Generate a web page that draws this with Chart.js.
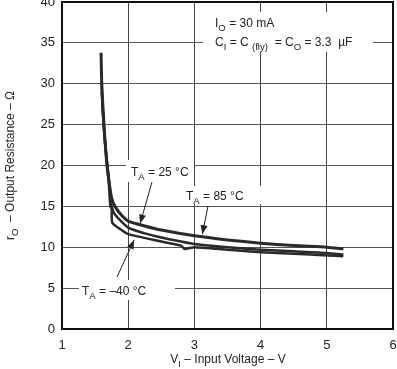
<!DOCTYPE html>
<html>
<head>
<meta charset="utf-8">
<script src="https://cdn.jsdelivr.net/npm/chart.js@4"></script>
<style>
  html, body { margin: 0; padding: 0; background: #fff; }
  #wrap { width: 397px; height: 369px; }
</style>
</head>
<body>
<div id="wrap"><canvas id="roChart" width="397" height="369"></canvas></div>
<script>
// input voltage (V) and output resistance (ohm)
const v85 = [1.59, 1.6, 1.62, 1.65, 1.68, 1.72, 1.75, 1.8, 1.9, 2.0, 2.25, 2.5, 3.0, 3.5, 4.0, 4.5, 5.0, 5.25];
const r85 = [33.8, 30, 27, 23, 20, 17.5, 16, 15.0, 13.9, 13.2, 12.6, 12.1, 11.4, 10.9, 10.5, 10.2, 10.0, 9.8];
const v25 = [1.6, 1.62, 1.66, 1.7, 1.73, 1.75, 1.8, 2.0, 2.25, 2.5, 2.8, 3.0, 3.5, 4.0, 4.5, 5.0, 5.25];
const r25 = [30, 26, 22, 19, 16.5, 15, 14.0, 12.4, 11.7, 11.2, 10.7, 10.4, 10.0, 9.7, 9.5, 9.3, 9.1];
const vM40 = [1.6, 1.63, 1.67, 1.71, 1.73, 1.75, 1.76, 1.9, 2.0, 2.5, 2.8, 2.85, 3.0, 3.5, 4.0, 4.5, 5.0, 5.25];
const rM40 = [29, 25, 21, 17.5, 15, 14.7, 13.0, 12.1, 11.6, 10.7, 10.2, 9.8, 10.0, 9.7, 9.4, 9.2, 9.0, 8.9];

const xTicks = [1, 2, 3, 4, 5, 6];
const yTicks = [0, 5, 10, 15, 20, 25, 30, 35, 40];

const FONT = "'Liberation Sans', Arial, sans-serif";
const INK = "#222";

function pts(xs, ys) {
  return xs.map(function (x, i) { return { x: x, y: ys[i] }; });
}

// draw text made of [string, isSubscript] parts
function richWidth(ctx, parts, size) {
  let w = 0;
  parts.forEach(function (p) {
    ctx.font = (p[1] ? size * 0.8 : size) + "px " + FONT;
    w += ctx.measureText(p[0]).width;
  });
  return w;
}
function drawRich(ctx, parts, x, y, size, align) {
  let cx = x;
  if (align === "center") cx = x - richWidth(ctx, parts, size) / 2;
  ctx.fillStyle = INK;
  ctx.textBaseline = "alphabetic";
  ctx.textAlign = "left";
  parts.forEach(function (p) {
    ctx.font = (p[1] ? size * 0.8 : size) + "px " + FONT;
    ctx.fillText(p[0], cx, p[1] ? y + size * 0.3 : y);
    cx += ctx.measureText(p[0]).width;
  });
}
function arrow(ctx, x1, y1, x2, y2) {
  ctx.strokeStyle = INK;
  ctx.fillStyle = INK;
  ctx.lineWidth = 1;
  ctx.beginPath();
  ctx.moveTo(x1, y1);
  ctx.lineTo(x2, y2);
  ctx.stroke();
  const a = Math.atan2(y2 - y1, x2 - x1);
  const len = 9, half = 3.5;
  ctx.beginPath();
  ctx.moveTo(x2, y2);
  ctx.lineTo(x2 - len * Math.cos(a) + half * Math.sin(a), y2 - len * Math.sin(a) - half * Math.cos(a));
  ctx.lineTo(x2 - len * Math.cos(a) - half * Math.sin(a), y2 - len * Math.sin(a) + half * Math.cos(a));
  ctx.closePath();
  ctx.fill();
}

const decorations = {
  id: "decorations",
  afterDatasetsDraw(chart) {
    const ctx = chart.ctx;
    const a = chart.chartArea;
    const xs = chart.scales.x, ys = chart.scales.y;
    ctx.save();

    // label boxes (white, covering the grid)
    ctx.fillStyle = "#fff";
    ctx.fillRect(203, 12, 170, 40);
    ctx.fillRect(126, 160, 68, 22);
    ctx.fillRect(181, 186, 90, 18);
    ctx.fillRect(79, 280, 96, 20);

    drawRich(ctx, [["I", 0], ["O", 1], [" = 30 mA", 0]], 215, 27, 12);
    drawRich(ctx, [["C", 0], ["I", 1], [" = C ", 0], ["(fly)", 1], ["  = C", 0], ["O", 1], [" = 3.3  \u00b5F", 0]], 215, 46, 12);
    drawRich(ctx, [["T", 0], ["A", 1], [" = 25 \u00b0C", 0]], 131, 176, 12);
    drawRich(ctx, [["T", 0], ["A", 1], [" = 85 \u00b0C", 0]], 186, 200, 12);
    drawRich(ctx, [["T", 0], ["A", 1], [" = \u201340 \u00b0C", 0]], 82, 295, 12);

    arrow(ctx, 152, 182, xs.getPixelForValue(2.18), ys.getPixelForValue(12.9));
    arrow(ctx, 208, 206, xs.getPixelForValue(3.12), ys.getPixelForValue(11.6));
    arrow(ctx, 117, 277, xs.getPixelForValue(2.09), ys.getPixelForValue(10.9));

    // frame
    ctx.strokeStyle = "#111";
    ctx.lineWidth = 2;
    ctx.strokeRect(a.left, a.top, a.right - a.left, a.bottom - a.top);

    // axis titles
    drawRich(ctx, [["V", 0], ["I", 1], [" \u2013 Input Voltage \u2013 V", 0]], 228, 363, 12, "center");
    ctx.translate(14, (a.top + a.bottom) / 2);
    ctx.rotate(-Math.PI / 2);
    drawRich(ctx, [["r", 0], ["O", 1], ["  \u2013 Output Resistance \u2013 \u03a9", 0]], 0, 0, 12, "center");
    ctx.restore();
  }
};

function makeChart() {
  const ctx = document.getElementById("roChart").getContext("2d");
  const line = { showLine: true, pointRadius: 0, borderColor: "#2a2a2a", borderWidth: 3, tension: 0.2, fill: false };
  new Chart(ctx, {
    type: "scatter",
    data: {
      datasets: [
        Object.assign({ label: "TA = 85 °C", data: pts(v85, r85) }, line),
        Object.assign({ label: "TA = 25 °C", data: pts(v25, r25) }, line, { borderWidth: 2.5 }),
        Object.assign({ label: "TA = -40 °C", data: pts(vM40, rM40) }, line, { borderWidth: 2.5 }),
      ],
    },
    options: {
      responsive: false,
      animation: false,
      layout: { padding: { top: 2, right: 4, left: 0, bottom: 0 } },
      scales: {
        x: {
          type: "linear",
          min: 1,
          max: 6,
          afterBuildTicks: function (s) { s.ticks = xTicks.map(function (v) { return { value: v }; }); },
          afterFit: function (s) { s.height = 40; s.paddingLeft = 0; s.paddingRight = 0; },
          grid: { color: "#444", lineWidth: 1, drawTicks: false },
          border: { display: false },
          ticks: { color: INK, font: { family: FONT, size: 13 }, padding: 9 },
        },
        y: {
          type: "linear",
          min: 0,
          max: 40,
          afterBuildTicks: function (s) { s.ticks = yTicks.map(function (v) { return { value: v }; }); },
          afterFit: function (s) { s.width = 62; s.paddingTop = 0; s.paddingBottom = 0; },
          grid: { color: "#555", lineWidth: 1, drawTicks: false },
          border: { display: false },
          ticks: { color: INK, font: { family: FONT, size: 13 }, padding: 7 },
        },
      },
      plugins: {
        legend: { display: false },
        tooltip: { enabled: false },
      },
    },
    plugins: [decorations],
  });
}

makeChart();
</script>
</body>
</html>
